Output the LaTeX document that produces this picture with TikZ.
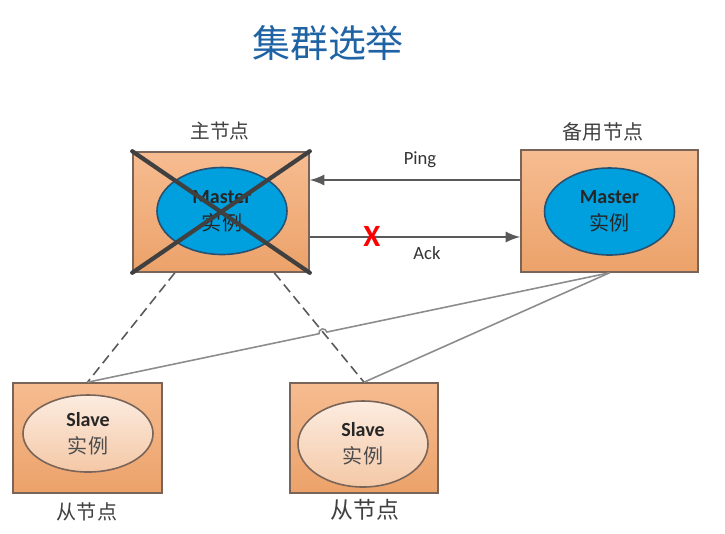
\documentclass[tikz,border=0pt]{standalone}
\usepackage{fontspec}
\setmainfont{Carlito}
\newfontfamily\cjk{Noto Sans CJK SC}
\usetikzlibrary{calc}
\usetikzlibrary{shapes.geometric}

\definecolor{titleblue}{RGB}{31,99,165}
\definecolor{boxtop}{RGB}{246,188,144}
\definecolor{boxbot}{RGB}{236,162,106}
\definecolor{boxline}{RGB}{120,100,88}
\definecolor{masterblue}{RGB}{0,160,222}
\definecolor{masterline}{RGB}{40,80,112}
\definecolor{slavetop}{RGB}{252,236,224}
\definecolor{slavebot}{RGB}{244,200,166}
\definecolor{linkgray}{RGB}{89,89,89}
\definecolor{wiregray}{RGB}{140,140,140}
\definecolor{crossgray}{RGB}{64,64,64}

\begin{document}
\begin{tikzpicture}[
    nodebox/.style={draw=boxline, line width=0.45pt, top color=boxtop, bottom color=boxbot, rectangle},
    masterin/.style={ellipse, draw=masterline, line width=0.45pt, fill=masterblue, inner sep=0pt,
        minimum width=1.30cm, minimum height=0.87cm, align=center, text=black!85,
        font=\bfseries\fontsize{5.7}{7.7}\selectfont},
    slavein/.style={ellipse, draw=boxline, line width=0.45pt, top color=slavetop, bottom color=slavebot,
        inner sep=0pt, minimum width=1.30cm, align=center, text=black!85,
        font=\bfseries\fontsize{5.7}{7.7}\selectfont},
    caption/.style={text=black!75, font=\cjk\fontsize{5.6}{6}\selectfont},
    msg/.style={->, >=latex, linkgray, line width=0.45pt},
    msglabel/.style={text=black!80, font=\fontsize{5.3}{6}\selectfont}
]
    \useasboundingbox (0,0) rectangle (7.25,5.33);

    \node[text=titleblue, font=\cjk\fontsize{10.8}{12}\selectfont] (title) at (3.28,4.90) {集群选举};

    % master side
    \node[nodebox, minimum width=1.76cm, minimum height=1.20cm] (master) at (2.21,3.21) {};
    \node[masterin] (masterin) at (2.22,3.22) {Master\\{\cjk\mdseries 实例}};
    \node[caption] (masterlabel) at (2.20,4.02) {主节点};
    \draw[crossgray, line width=1.2pt, line cap=round] (master.north west) -- (master.south east);
    \draw[crossgray, line width=1.2pt, line cap=round] (master.south west) -- (master.north east);

    % backup side
    \node[nodebox, minimum width=1.77cm, minimum height=1.22cm] (backup) at (6.095,3.22) {};
    \node[masterin] (backupin) at (6.095,3.215) {Master\\{\cjk\mdseries 实例}};
    \node[caption, font=\cjk\fontsize{5.7}{6}\selectfont] (backuplabel) at (6.03,4.01) {备用节点};

    % heartbeat
    \draw[msg] ([yshift=0.31cm]backup.west) -- ([yshift=0.31cm]backup.west -| master.east);
    \draw[msg] ([yshift=-0.25cm]master.east) -- ([yshift=-0.25cm]master.east -| backup.west);
    \node[msglabel] (ping) at (4.20,3.73) {Ping};
    \node[msglabel] (ack) at (4.27,2.80) {Ack};
    \node[text=red, font=\bfseries\fontsize{8.8}{9}\selectfont, inner sep=0pt] (lost) at (3.72,2.97) {X};

    % slaves
    \node[nodebox, minimum width=1.49cm, minimum height=1.10cm] (slaveA) at (0.875,0.95) {};
    \node[slavein, minimum height=0.77cm] (slaveAin) at (0.88,0.995) {Slave\\{\cjk\mdseries\color{black!70}实例}};
    \node[caption, font=\cjk\fontsize{5.7}{6}\selectfont] (slaveAlabel) at (0.87,0.21) {从节点};
    \node[nodebox, minimum width=1.48cm, minimum height=1.10cm] (slaveB) at (3.64,0.95) {};
    \node[slavein, minimum height=0.86cm] (slaveBin) at (3.63,0.89) {Slave\\{\cjk\mdseries\color{black!70}实例}};
    \node[caption, font=\cjk\fontsize{6.5}{7}\selectfont] (slaveBlabel) at (3.65,0.23) {从节点};

    % old links to the failed master
    \draw[linkgray, line width=0.45pt, dash pattern=on 2.8pt off 1.5pt]
        ($(master.south west)!0.24!(master.south east)$) -- (slaveA.north);
    \draw[linkgray, line width=0.45pt, dash pattern=on 2.8pt off 1.5pt]
        ($(master.south west)!0.80!(master.south east)$) -- (slaveB.north);

    % new links to the backup
    \coordinate (hop) at ($(backup.south)!0.549!(slaveA.north)$);
    \draw[wiregray, line width=0.45pt] (backup.south) -- ($(hop)!0.04cm!(backup.south)$)
        arc[start angle=12, end angle=192, radius=0.04cm] -- (slaveA.north);
    \draw[wiregray, line width=0.45pt] (backup.south) -- (slaveB.north);
\end{tikzpicture}
\end{document}
